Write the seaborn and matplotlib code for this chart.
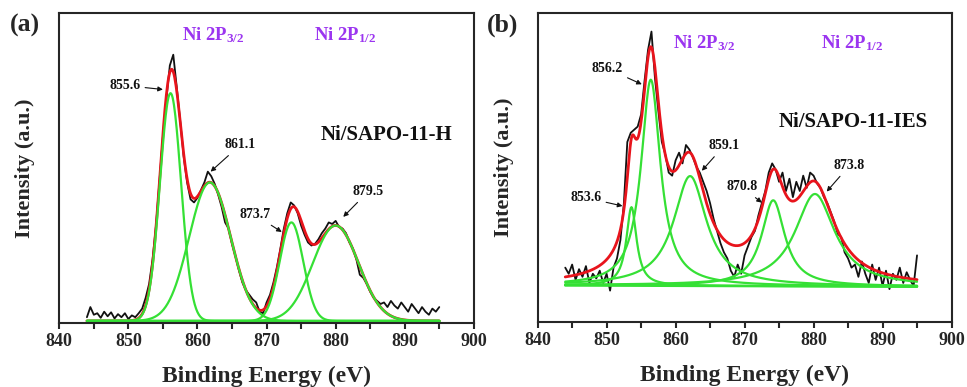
import numpy as np
import pandas as pd
import matplotlib
matplotlib.use("Agg")
import matplotlib.pyplot as plt
import seaborn as sns
from matplotlib.ticker import MultipleLocator

energy = np.arange(844.0, 895.01, 0.5)
counts_h = [
    .012, .045, .020, .025, .010, .030, .015, .028, .008, .022,
    .012, .025, .006, .018, .012, .025, .040, .075, .120, .200,
    .310, .455, .600, .720, .830, .865, .760, .650, .535, .450,
    .395, .385, .400, .425, .450, .485, .470, .445, .410, .370,
    .320, .300, .250, .210, .165, .125, .100, .085, .070, .060,
    .030, .025, .060, .085, .125, .175, .235, .300, .350, .385,
    .375, .350, .310, .280, .255, .245, .250, .265, .285, .300,
    .320, .315, .325, .305, .300, .285, .255, .235, .200, .150,
    .140, .120, .095, .075, .065, .055, .060, .045, .065, .050,
    .040, .060, .045, .030, .055, .040, .025, .045, .030, .020,
    .040, .030, .045,
]
counts_ies = [
    .170, .150, .180, .130, .165, .140, .175, .120, .150, .135,
    .160, .120, .150, .095, .170, .200, .260, .380, .580, .610,
    .620, .630, .670, .780, .880, .940, .790, .680, .580, .540,
    .480, .470, .520, .545, .510, .570, .555, .530, .500, .480,
    .450, .420, .380, .330, .290, .250, .220, .200, .160, .140,
    .180, .150, .210, .240, .270, .290, .340, .380, .420, .480,
    .510, .490, .450, .480, .420, .460, .400, .450, .420, .470,
    .430, .480, .470, .445, .430, .400, .380, .350, .320, .280,
    .270, .220, .200, .170, .180, .140, .190, .150, .120, .180,
    .130, .170, .110, .160, .100, .150, .130, .170, .120, .155,
    .130, .110, .210,
]

# fitted peaks (a): gaussian centre / height / sigma
h_centre = [856.1, 861.8, 873.6, 880.0]
h_height = [0.74, 0.45, 0.32, 0.31]
h_sigma = [1.53, 3.0, 1.7, 3.3]

# fitted peaks (b): lorentzian centre / height / fwhm on a linear background
ies_centre = [853.6, 856.4, 862.1, 874.15, 880.2]
ies_height = [0.256, 0.672, 0.358, 0.28, 0.301]
ies_fwhm = [1.8, 3.4, 5.8, 4.1, 7.0]
ies_base = [0.112, 0.108]

# annotations: label, text position (eV, y), arrow tip (eV, y)
notes_h = [("855.6", (849.5, 0.765), (855.0, 0.752)),
           ("861.1", (866.2, 0.572), (861.9, 0.485)),
           ("873.7", (868.3, 0.345), (872.2, 0.289)),
           ("879.5", (884.7, 0.420), (881.1, 0.338))]
notes_ies = [("856.2", (850.1, 0.819), (855.1, 0.768)),
             ("859.1", (867.0, 0.567), (863.8, 0.486)),
             ("853.6", (847.0, 0.398), (852.3, 0.371)),
             ("870.8", (869.6, 0.433), (872.5, 0.382)),
             ("873.8", (885.2, 0.503), (881.9, 0.418))]

sns.set_style("ticks")
plt.rcParams["font.family"] = ["Liberation Serif", "DejaVu Serif"]
plt.rcParams["font.weight"] = "bold"
plt.rcParams["mathtext.fontset"] = "custom"
plt.rcParams["mathtext.rm"] = "Liberation Serif:bold"
plt.rcParams["mathtext.default"] = "rm"

BLACK, RED, GREEN, PURPLE = "#111111", "#e8141c", "#35e035", "#9b35f0"

grid = np.linspace(844, 895, 511)

# component curves
base_h = np.zeros_like(grid)
comps_h = [base_h + h * np.exp(-(grid - c) ** 2 / (2 * s ** 2))
           for c, h, s in zip(h_centre, h_height, h_sigma)]
base_ies = np.interp(grid, [844, 895], ies_base)
comps_ies = [base_ies + h / (1 + ((grid - c) / (w / 2)) ** 2)
             for c, h, w in zip(ies_centre, ies_height, ies_fwhm)]


def draw_panel(ax, counts, comps, base, notes, name, name_xy, ni_x, ni_y, tag):
    spec = pd.DataFrame({"energy": energy, "counts": counts})
    sns.lineplot(data=spec, x="energy", y="counts", ax=ax, color=BLACK, lw=1.3)
    total = base + sum(cp - base for cp in comps)
    sns.lineplot(x=grid, y=total, ax=ax, color=RED, lw=2.0)
    for cp in comps:
        sns.lineplot(x=grid, y=cp, ax=ax, color=GREEN, lw=1.6)
    sns.lineplot(x=grid, y=base, ax=ax, color=GREEN, lw=1.8)

    for lab, txy, tip in notes:
        ax.annotate(lab, xy=tip, xytext=txy, ha="center", va="center",
                    fontsize=10, fontweight="bold", color=BLACK,
                    arrowprops=dict(arrowstyle="-|>", color=BLACK, lw=0.8,
                                    mutation_scale=7, shrinkA=1, shrinkB=0))
    ax.text(name_xy[0], name_xy[1], name, ha="center", va="center",
            fontsize=15, fontweight="bold", color=BLACK)
    ax.text(ni_x[0], ni_y, "Ni 2P$_{3/2}$", ha="center", va="baseline",
            fontsize=13.5, color=PURPLE)
    ax.text(ni_x[1], ni_y, "Ni 2P$_{1/2}$", ha="center", va="baseline",
            fontsize=13.5, color=PURPLE)

    ax.set_xlim(840, 900)
    ax.set_ylim(-0.006, 1)
    ax.xaxis.set_major_locator(MultipleLocator(10))
    ax.xaxis.set_minor_locator(MultipleLocator(5))
    ax.set_yticks([])
    ax.tick_params(axis="x", which="both", direction="out", length=4.5,
                   width=1.5, labelsize=13, pad=3)
    for sp in ax.spines.values():
        sp.set_visible(True)
        sp.set_linewidth(1.5)
    ax.set_xlabel("Binding Energy (eV)", fontsize=17, fontweight="bold")
    ax.set_ylabel("Intensity (a.u.)", fontsize=16, fontweight="bold")
    ax.xaxis.set_label_coords(0.5, -0.14)
    ax.yaxis.set_label_coords(-0.058, 0.5)
    for t in ax.get_xticklabels():
        t.set_fontweight("bold")
    ax.get_figure().text(tag[0], tag[1], tag[2], fontsize=18.5,
                         fontweight="bold", ha="left", va="center")


fig = plt.figure(figsize=(9.67, 3.87), dpi=100)
ax_a = fig.add_axes([0.0613, 0.166, 0.4287, 0.800])
ax_b = fig.add_axes([0.556, 0.169, 0.428, 0.797])

draw_panel(ax_a, counts_h, comps_h, base_h, notes_h, "Ni/SAPO-11-H",
           (887.4, 0.604), (862.3, 881.35), 0.912, (0.010, 0.935, "(a)"))
draw_panel(ax_b, counts_ies, comps_ies, base_ies, notes_ies, "Ni/SAPO-11-IES",
           (885.7, 0.645), (864.1, 885.6), 0.886, (0.503, 0.935, "(b)"))

fig.savefig("out.png", dpi=100)
